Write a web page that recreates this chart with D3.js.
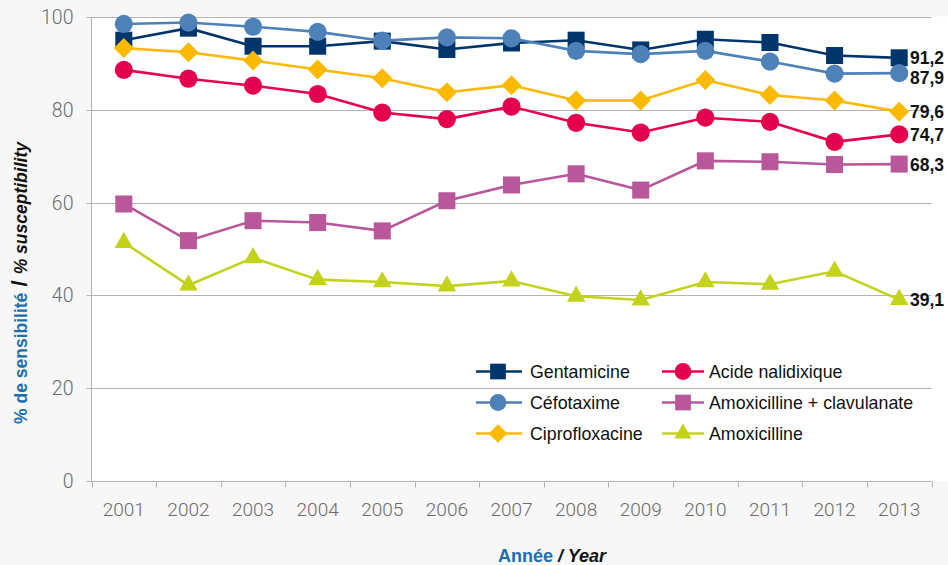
<!DOCTYPE html>
<html><head><meta charset="utf-8">
<script src="https://cdn.jsdelivr.net/npm/d3@7"></script>
<style>
html,body{margin:0;padding:0;background:#f7f7f7;}
svg{display:block;}
</style></head>
<body>
<script>
const years = ["2001","2002","2003","2004","2005","2006","2007","2008","2009","2010","2011","2012","2013"];
const yTicks = [0,20,40,60,80,100];
const seriesNames = ["Gentamicine","Céfotaxime","Ciprofloxacine","Acide nalidixique","Amoxicilline + clavulanate","Amoxicilline"];
const gentamicine = [95.0,97.6,93.7,93.7,94.8,93.0,94.4,95.0,92.9,95.2,94.5,91.7,91.2];
const cefotaxime = [98.5,98.8,97.9,96.8,94.9,95.6,95.4,92.7,92.0,92.7,90.4,87.8,87.9];
const ciprofloxacine = [93.3,92.4,90.6,88.7,86.8,83.8,85.3,82.0,82.0,86.4,83.2,82.0,79.6];
const acideNalidixique = [88.6,86.7,85.2,83.4,79.4,78.0,80.7,77.2,75.1,78.3,77.4,73.1,74.7];
const amoxClav = [59.7,51.8,56.1,55.7,53.9,60.4,63.8,66.2,62.7,69.0,68.8,68.2,68.3];
const amoxicilline = [51.4,42.2,48.1,43.4,42.9,42.0,43.1,39.8,39.0,42.9,42.4,45.2,39.1];
const endLabels = ["91,2","87,9","79,6","74,7","68,3","39,1"];
const seriesColors = ["#00356b","#4f81b9","#fbb900","#e4004f","#b8579a","#c3d31c"];
const seriesShapes = ["square","circle","diamond","circle","square","triangle"];
const seriesValues = [gentamicine,cefotaxime,ciprofloxacine,acideNalidixique,amoxClav,amoxicilline];

(function(){
const W = 948, H = 565;
const svg = d3.select("body").append("svg").attr("width",W).attr("height",H);
const pl = 91.5, pr = 931.5, pt = 17, pb = 481;

svg.append("rect").attr("x",0).attr("y",0).attr("width",W).attr("height",H).attr("fill","#f7f7f7");
svg.append("rect").attr("x",pl).attr("y",pt-0.5).attr("width",W-pl).attr("height",pb-pt+0.5).attr("fill","#ffffff");

const x = d3.scaleBand().domain(years).range([pl,pr]).padding(0);
const y = d3.scaleLinear().domain([0,100]).range([pb,pt]);
const cx = d => x(d) + x.bandwidth()/2;

// gridlines
svg.append("g").selectAll("line").data(yTicks.filter(t=>t>0)).join("line")
  .attr("x1",pl).attr("x2",pr).attr("y1",d=>Math.round(y(d))+0.5).attr("y2",d=>Math.round(y(d))+0.5)
  .attr("stroke","#b4b4b4").attr("stroke-width",1);

// y axis
const yAxis = svg.append("g").attr("transform",`translate(${pl},0)`)
  .call(d3.axisLeft(y).tickValues(yTicks).tickSize(5).tickPadding(13));
yAxis.select(".domain").attr("stroke","#b4b4b4").attr("d",`M0,${pt}V${pb}`);
yAxis.selectAll(".tick line").attr("stroke","#b4b4b4");
yAxis.selectAll(".tick").attr("transform",d=>`translate(0,${Math.round(y(d))+0.5})`);
yAxis.selectAll("text").attr("font-family","Roboto, 'Liberation Sans', sans-serif").attr("font-weight",300)
  .attr("font-size",19.5).attr("fill","#6a6a6a");

// x axis
const xAxis = svg.append("g").attr("transform",`translate(0,${pb+0.5})`);
xAxis.append("line").attr("x1",pl).attr("x2",pr).attr("stroke","#b4b4b4");
const edges = years.map(d=>x(d)).concat([pr]);
xAxis.selectAll("line.tk").data(edges).join("line").attr("class","tk")
  .attr("x1",d=>Math.round(d)+0.5).attr("x2",d=>Math.round(d)+0.5).attr("y1",0).attr("y2",6).attr("stroke","#b4b4b4");
xAxis.selectAll("text").data(years).join("text")
  .attr("x",d=>cx(d)).attr("y",34).attr("text-anchor","middle")
  .attr("font-family","Roboto, 'Liberation Sans', sans-serif").attr("font-weight",300)
  .attr("font-size",19).attr("fill","#6a6a6a").text(d=>d);

function symFor(shape, scale){
  if(shape==="square") return d3.symbol(d3.symbolSquare, 290*scale);
  if(shape==="circle") return d3.symbol(d3.symbolCircle, 260*scale);
  if(shape==="diamond") return d3.symbol(d3.symbolSquare, 200*scale);
  return d3.symbol(d3.symbolTriangle, 150*scale);
}

const line = d3.line().x((d,i)=>cx(years[i])).y(d=>y(d));
const order = [0,1,2,3,4,5];
order.forEach(s=>{
  const g = svg.append("g");
  g.append("path").attr("d",line(seriesValues[s])).attr("fill","none")
    .attr("stroke",seriesColors[s]).attr("stroke-width",2.6);
  g.selectAll("path.m").data(seriesValues[s]).join("path").attr("class","m")
    .attr("d",symFor(seriesShapes[s],1))
    .attr("transform",(d,i)=>`translate(${cx(years[i])},${y(d)})`+(seriesShapes[s]==="diamond"?" rotate(45)":""))
    .attr("fill",seriesColors[s]);
});

// end labels with simple push-down collision avoidance
const lastIdx = years.length-1;
const labelPos = order.map(s=>({s, yy:y(seriesValues[s][lastIdx])})).sort((a,b)=>a.yy-b.yy);
for(let i=1;i<labelPos.length;i++){
  if(labelPos[i].yy - labelPos[i-1].yy < 20) labelPos[i].yy = labelPos[i-1].yy + 20;
}
svg.append("g").selectAll("text").data(labelPos).join("text")
  .attr("x",910).attr("y",d=>d.yy).attr("dy","0.38em")
  .attr("font-family","'Liberation Sans', Arial, sans-serif").attr("font-weight","bold")
  .attr("font-size",17.5).attr("fill","#111").text(d=>endLabels[d.s]);

// legend
const legendItems = [
  {s:0,col:0,row:0},{s:3,col:1,row:0},
  {s:1,col:0,row:1},{s:4,col:1,row:1},
  {s:2,col:0,row:2},{s:5,col:1,row:2}
];
const colX = [{x1:476,x2:522,m:498,t:530},{x1:662,x2:704,m:683,t:709}];
const rowY = [371.5,402.5,433.5];
const lg = svg.append("g");
legendItems.forEach(it=>{
  const c = colX[it.col], yy = rowY[it.row], s = it.s;
  lg.append("line").attr("x1",c.x1).attr("x2",c.x2).attr("y1",yy).attr("y2",yy)
    .attr("stroke",seriesColors[s]).attr("stroke-width",2.6);
  lg.append("path").attr("d",symFor(seriesShapes[s],0.85))
    .attr("transform",`translate(${c.m},${yy})`+(seriesShapes[s]==="diamond"?" rotate(45)":""))
    .attr("fill",seriesColors[s]);
  lg.append("text").attr("x",c.t).attr("y",yy).attr("dy","0.36em")
    .attr("font-family","'Liberation Sans', Arial, sans-serif").attr("font-size",17.8)
    .attr("fill","#111").text(seriesNames[s]);
});

// y axis title
const yt = svg.append("text").attr("transform","translate(27,283) rotate(-90)")
  .attr("text-anchor","middle").attr("font-family","'Liberation Sans', Arial, sans-serif")
  .attr("font-weight","bold").attr("font-size",17.5);
yt.append("tspan").attr("fill","#1a6faf").text("% de sensibilité");
yt.append("tspan").attr("fill","#111").attr("font-size",22).text(" / ");
yt.append("tspan").attr("fill","#111").attr("font-style","italic").text("% susceptibility");

// x axis title
const xt = svg.append("text").attr("x",552).attr("y",562)
  .attr("text-anchor","middle").attr("font-family","'Liberation Sans', Arial, sans-serif")
  .attr("font-weight","bold").attr("font-size",18);
xt.append("tspan").attr("fill","#1a6faf").text("Année");
xt.append("tspan").attr("fill","#111").attr("font-style","italic").text(" / Year");
})();
</script>
</body></html>
